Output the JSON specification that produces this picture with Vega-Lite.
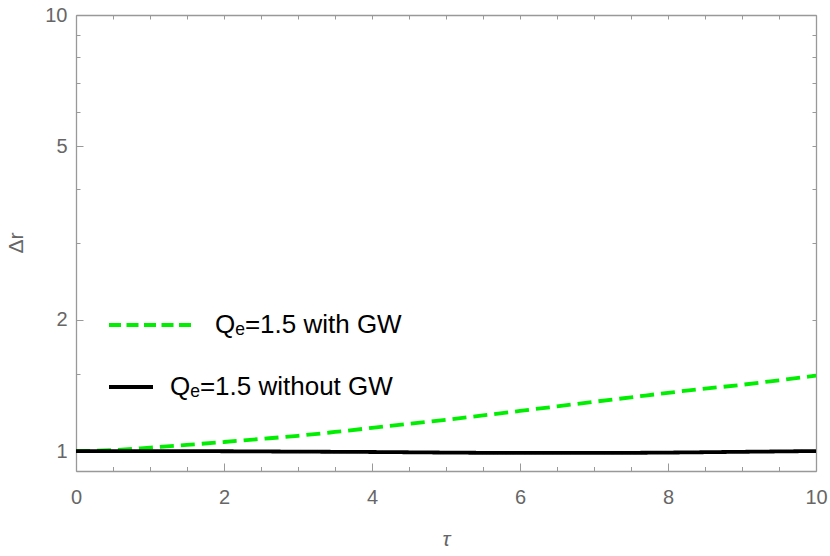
{
  "$schema": "https://vega.github.io/schema/vega-lite/v6.json",
  "width": 740,
  "height": 456,
  "autosize": "none",
  "padding": {"left": 76, "top": 15, "right": 14, "bottom": 85},
  "background": "white",
  "config": {"view": {"stroke": null}, "font": "Liberation Sans"},
  "data": {
    "values": [
      {"g": "a", "series": "Qₑ=1.5 with GW", "tau": 0, "dr": 1.0},
      {"g": "a", "series": "Qₑ=1.5 with GW", "tau": 0.5, "dr": 1.005},
      {"g": "a", "series": "Qₑ=1.5 with GW", "tau": 1, "dr": 1.018},
      {"g": "a", "series": "Qₑ=1.5 with GW", "tau": 1.5, "dr": 1.033},
      {"g": "a", "series": "Qₑ=1.5 with GW", "tau": 2, "dr": 1.049},
      {"g": "a", "series": "Qₑ=1.5 with GW", "tau": 2.5, "dr": 1.066},
      {"g": "a", "series": "Qₑ=1.5 with GW", "tau": 3, "dr": 1.084},
      {"g": "a", "series": "Qₑ=1.5 with GW", "tau": 3.5, "dr": 1.106},
      {"g": "a", "series": "Qₑ=1.5 with GW", "tau": 4, "dr": 1.13},
      {"g": "a", "series": "Qₑ=1.5 with GW", "tau": 4.5, "dr": 1.155},
      {"g": "a", "series": "Qₑ=1.5 with GW", "tau": 5, "dr": 1.179},
      {"g": "a", "series": "Qₑ=1.5 with GW", "tau": 5.5, "dr": 1.207},
      {"g": "a", "series": "Qₑ=1.5 with GW", "tau": 6, "dr": 1.236},
      {"g": "a", "series": "Qₑ=1.5 with GW", "tau": 6.5, "dr": 1.266},
      {"g": "a", "series": "Qₑ=1.5 with GW", "tau": 7, "dr": 1.297},
      {"g": "a", "series": "Qₑ=1.5 with GW", "tau": 7.5, "dr": 1.328},
      {"g": "a", "series": "Qₑ=1.5 with GW", "tau": 8, "dr": 1.36},
      {"g": "a", "series": "Qₑ=1.5 with GW", "tau": 8.5, "dr": 1.39},
      {"g": "a", "series": "Qₑ=1.5 with GW", "tau": 9, "dr": 1.419},
      {"g": "a", "series": "Qₑ=1.5 with GW", "tau": 9.5, "dr": 1.453},
      {"g": "a", "series": "Qₑ=1.5 with GW", "tau": 10, "dr": 1.489},
      {"g": "b", "series": "Qₑ=1.5 without GW", "tau": 0, "dr": 1.0},
      {"g": "b", "series": "Qₑ=1.5 without GW", "tau": 1, "dr": 1.0},
      {"g": "b", "series": "Qₑ=1.5 without GW", "tau": 2, "dr": 0.999},
      {"g": "b", "series": "Qₑ=1.5 without GW", "tau": 3, "dr": 0.997},
      {"g": "b", "series": "Qₑ=1.5 without GW", "tau": 4, "dr": 0.995},
      {"g": "b", "series": "Qₑ=1.5 without GW", "tau": 5, "dr": 0.992},
      {"g": "b", "series": "Qₑ=1.5 without GW", "tau": 6, "dr": 0.99},
      {"g": "b", "series": "Qₑ=1.5 without GW", "tau": 7, "dr": 0.99},
      {"g": "b", "series": "Qₑ=1.5 without GW", "tau": 8, "dr": 0.992},
      {"g": "b", "series": "Qₑ=1.5 without GW", "tau": 9, "dr": 0.996},
      {"g": "b", "series": "Qₑ=1.5 without GW", "tau": 10, "dr": 1.0}
    ]
  },
  "resolve": {"axis": {"x": "independent", "y": "independent"}},
  "layer": [
    {
      "transform": [{"filter": "datum.g == 'a'"}],
      "mark": {"type": "line", "strokeWidth": 3.8, "strokeDash": [14, 7], "interpolate": "monotone"},
      "encoding": {
        "x": {
          "field": "tau", "type": "quantitative",
          "scale": {"domain": [0, 10], "nice": false, "zero": false},
          "axis": {
            "orient": "bottom",
            "values": [0, 0.5, 1, 1.5, 2, 2.5, 3, 3.5, 4, 4.5, 5, 5.5, 6, 6.5, 7, 7.5, 8, 8.5, 9, 9.5, 10],
            "labelExpr": "datum.value % 2 == 0 ? '' + datum.value : ''",
            "tickSize": {"condition": {"test": "datum.value % 2 == 0", "value": -8}, "value": -4.5},
            "grid": false, "labelFlush": false, "labelOverlap": false,
            "domainColor": "#999999", "tickColor": "#999999", "domainWidth": 1.3, "tickWidth": 1,
            "labelColor": "#666666", "labelFontSize": 20, "labelPadding": 24,
            "title": "τ", "titleFontStyle": "italic", "titleFontSize": 21, "titleFontWeight": "normal",
            "titleColor": "#666666", "titleY": 74, "titleBaseline": "alphabetic"
          }
        },
        "y": {
          "field": "dr", "type": "quantitative",
          "scale": {"type": "log", "domain": [0.9, 10], "nice": false},
          "axis": {
            "orient": "left",
            "values": [0.9, 1, 1.5, 2, 3, 4, 5, 6, 7, 8, 9, 10],
            "labelExpr": "(datum.value == 1 || datum.value == 2 || datum.value == 5 || datum.value == 10) ? '' + datum.value : ''",
            "tickSize": {"condition": {"test": "datum.value == 1 || datum.value == 2 || datum.value == 5 || datum.value == 10", "value": -7}, "value": -4},
            "grid": false, "labelFlush": false, "labelOverlap": false,
            "domainColor": "#999999", "tickColor": "#999999", "domainWidth": 1.3, "tickWidth": 1,
            "labelColor": "#666666", "labelFontSize": 20, "labelPadding": 16,
            "title": "Δr", "titleFontSize": 21, "titleFontWeight": "normal", "titleColor": "#666666",
            "titleX": -54, "titleY": 227.5, "titleAngle": -90, "titleAlign": "center", "titleBaseline": "alphabetic"
          }
        },
        "color": {
          "field": "series", "type": "nominal",
          "scale": {"range": ["#00ee00"]},
          "legend": {
            "orient": "none", "legendX": 31, "legendY": 266, "title": null, "padding": 0,
            "symbolType": "stroke", "symbolSize": 7056, "symbolStrokeWidth": 3.8, "symbolDash": [12, 5.5],
            "labelFontSize": 26, "labelColor": "#000000", "labelOffset": 20, "labelLimit": 0, "labelFont": "Liberation Sans"
          }
        }
      }
    },
    {
      "transform": [{"filter": "datum.g == 'b'"}],
      "mark": {"type": "line", "strokeWidth": 3.8, "color": "#000000", "interpolate": "monotone"},
      "encoding": {
        "x": {
          "field": "tau", "type": "quantitative",
          "axis": {
            "orient": "top",
            "values": [0, 0.5, 1, 1.5, 2, 2.5, 3, 3.5, 4, 4.5, 5, 5.5, 6, 6.5, 7, 7.5, 8, 8.5, 9, 9.5, 10],
            "labels": false, "tickSize": -4, "grid": false, "title": null,
            "domainColor": "#999999", "tickColor": "#999999", "domainWidth": 1.3, "tickWidth": 1
          }
        },
        "y": {
          "field": "dr", "type": "quantitative",
          "axis": {
            "orient": "right",
            "values": [0.9, 1, 1.5, 2, 3, 4, 5, 6, 7, 8, 9, 10],
            "labels": false, "tickSize": -4, "grid": false, "title": null,
            "domainColor": "#999999", "tickColor": "#999999", "domainWidth": 1.3, "tickWidth": 1
          }
        },
        "strokeDash": {
          "field": "series", "type": "nominal",
          "scale": {"range": [[1, 0]]},
          "legend": {
            "orient": "none", "legendX": 31, "legendY": 348, "title": null, "padding": 0,
            "symbolType": "stroke", "symbolSize": 1936, "symbolStrokeWidth": 3.8, "symbolStrokeColor": "#000000",
            "labelFontSize": 26, "labelColor": "#000000", "labelOffset": 15, "labelLimit": 0, "labelFont": "Liberation Sans"
          }
        }
      }
    }
  ]
}
